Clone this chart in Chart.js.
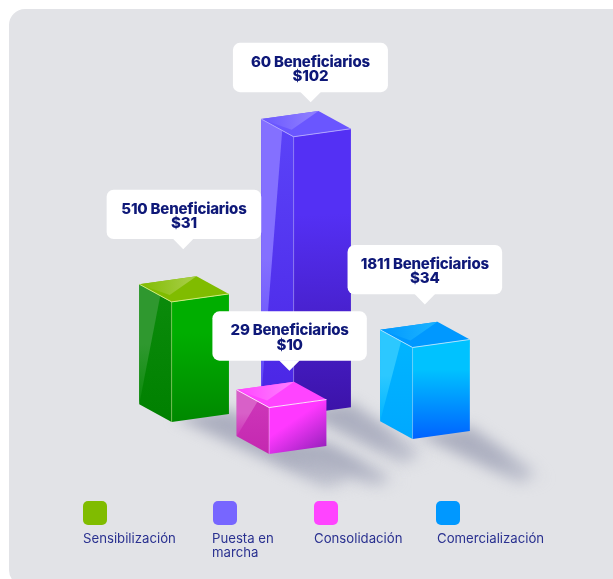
<!DOCTYPE html>
<html><head><meta charset="utf-8">
<style>html,body{margin:0;padding:0;background:#fff;overflow:hidden}canvas{display:block}</style>
<script src="https://cdn.jsdelivr.net/npm/chart.js@4"></script>
</head><body><canvas id="c" width="613" height="579"></canvas>
<script>
// ---- data ----
const categories = ['Sensibilización', 'Puesta en marcha', 'Consolidación', 'Comercialización'];
const beneficiaries = [510, 60, 29, 1811];
const amounts = [31, 102, 10, 34];
// the illustration does not draw heights in proportion to the amounts: read as drawn
const drawnHeights = [44, 102, 17, 33.5];
const floorLevels = [57.5, 60, 45.8, 51.3];
const columnPositions = [28, 47.9, 43.9, 67.3];

// ---- style / layout ----
const NAVY = '#0E1878', LEG = '#2A3190';
const FONT = '"Inter","Liberation Sans",sans-serif';
const LEFT = {dx:-32.4, dy:-17.7}, RIGHT = {dx:57.3, dy:-8};
const palette = [
 {top:'#80BC00',topHi:'#A4CC40',left:'#0A8A0A',leftHi:'#2F982F',leftBot:'#008000',rT:'#00AE00',rB:'#008800',diag:0,edge:'#D0EC80',sw:'#80BC00'},
 {top:'#6A56FF',topHi:'#8C7CFF',left:'#5A42F8',leftHi:'#8470FF',leftBot:'#4A24E4',rT:'#5430F4',rB:'#3C12A8',diag:0.25,edge:'#B0A4FF',sw:'#7766FF'},
 {top:'#FF44FF',topHi:'#FF78FF',left:'#CC34B8',leftHi:'#D860C8',leftBot:'#C428B0',rT:'#FF38FF',rB:'#8A1EB4',diag:1,edge:'#FFE0FA',sw:'#FF44FF'},
 {top:'#0098FF',topHi:'#18B0FF',left:'#00B4FF',leftHi:'#2CC8FF',leftBot:'#00A8FF',rT:'#00C2FF',rB:'#0062FF',diag:0,edge:'#A8E4FF',sw:'#0098FF'}
];
// callout: offset of pointer tip from the column's front-top corner, then box extents around tip
const calloutTips = [{dx:11.6,dy:-52.7},{dx:17,dy:-34.4},{dx:20.3,dy:-36.7},{dx:12.3,dy:-43}];
const calloutBox = [{l:76.6,r:78},{l:77.7,r:77.3},{l:77,r:77.4},{l:77.3,r:77.3}];
const legendSpots = [
 {x:83,tx:83,lines:['Sensibilización']},
 {x:213,tx:212,lines:['Puesta en','marcha']},
 {x:314,tx:314,lines:['Consolidación']},
 {x:436,tx:437,lines:['Comercialización']}
];
// floor shadow reach per column: run, drop, taper
const shadowReach = [[150,66,.9],[95,50,.55],[92,34,.5],[92,46,.5]];

function rr(ctx,x,y,w,h,r){ctx.beginPath();ctx.roundRect(x,y,w,h,r);}
function poly(ctx,pts){ctx.beginPath();pts.forEach((p,i)=>i?ctx.lineTo(p[0],p[1]):ctx.moveTo(p[0],p[1]));ctx.closePath();}
function lg(ctx,x0,y0,x1,y1,stops){const g=ctx.createLinearGradient(x0,y0,x1,y1);stops.forEach(s=>g.addColorStop(s[0],s[1]));return g;}

function drawColumn(ctx,b,i){
 const c=palette[i], fx=b.x, ty=b.y, by=b.base;
 const h=by-ty;
 const L=[fx+LEFT.dx,ty+LEFT.dy], R=[fx+RIGHT.dx,ty+RIGHT.dy], B=[L[0]+RIGHT.dx,L[1]+RIGHT.dy], F=[fx,ty];
 const Lb=[L[0],L[1]+h], Rb=[R[0],R[1]+h], Fb=[fx,by];
 // left face
 ctx.fillStyle=lg(ctx,0,ty,0,by,[[0,c.left],[1,c.leftBot]]);
 poly(ctx,[L,F,Fb,Lb]);ctx.fill();
 // left highlight wedge, running from the top edge to the lower back corner
 ctx.fillStyle=lg(ctx,0,L[1],0,Lb[1],[[0,c.leftHi],[.5,c.leftHi],[1,c.left]]);
 const wx=L[0]+21;
 poly(ctx,[L,[wx,L[1]+21*17.7/32.4],Lb]);ctx.fill();
 // right face
 ctx.fillStyle=lg(ctx,fx+c.diag*20,Math.min(R[1],ty),fx+c.diag*RIGHT.dx,by,[[0,c.rT],[.3,c.rT],[1,c.rB]]);
 poly(ctx,[F,R,Rb,Fb]);ctx.fill();
 // top face
 ctx.fillStyle=c.top;poly(ctx,[L,B,R,F]);ctx.fill();
 ctx.fillStyle=lg(ctx,L[0],L[1],B[0],L[1],[[0,c.top],[.85,c.topHi],[1,c.topHi]]);
 poly(ctx,[L,B,[fx-2,ty-7]]);ctx.fill();
 // edges
 ctx.lineWidth=1;ctx.strokeStyle=c.edge;
 ctx.beginPath();ctx.moveTo(L[0],L[1]);ctx.lineTo(F[0],F[1]);ctx.lineTo(R[0],R[1]);ctx.stroke();
 ctx.globalAlpha=.4;ctx.beginPath();ctx.moveTo(F[0],F[1]);ctx.lineTo(Fb[0],Fb[1]);ctx.stroke();ctx.globalAlpha=1;
}
function drawShadows(ctx,bars){
 ctx.save();
 ctx.filter='blur(7px)';
 bars.forEach((b,i)=>{
  const h=b.base-b.y, Rb=[b.x+RIGHT.dx,b.y+RIGHT.dy+h], Fb=[b.x,b.base];
  const [run,drop,tp]=shadowReach[i];
  const cx=(Fb[0]+Rb[0])/2, cy=(Fb[1]+Rb[1])/2;
  const wx=(Rb[0]-Fb[0])/2*tp, wy=(Rb[1]-Fb[1])/2*tp;
  const ex=cx+run, ey=cy+drop;
  ctx.fillStyle=lg(ctx,cx,cy,ex,ey,[[0,'rgba(168,171,188,.95)'],[.6,'rgba(172,175,192,.95)'],[.92,'rgba(180,183,198,.7)'],[1,'rgba(200,202,214,.15)']]);
  poly(ctx,[[Fb[0]+3,Fb[1]-5],[Rb[0],Rb[1]-5],[ex+wx,ey+wy],[ex-wx,ey-wy]]);
  ctx.fill();
 });
 ctx.restore();
}
function drawCallout(ctx,b,i){
 const t=calloutTips[i],bx=calloutBox[i];
 const tx=b.x+t.dx, ty=b.y+t.dy;
 const top=ty-59.5,bot=ty-10.2;
 ctx.save();
 ctx.fillStyle='#fff';
 rr(ctx,tx-bx.l,top,bx.l+bx.r,bot-top,7);ctx.fill();
 poly(ctx,[[tx-10.5,bot-.5],[tx+10.5,bot-.5],[tx,ty]]);ctx.fill();
 ctx.fillStyle=NAVY;ctx.textAlign='center';ctx.textBaseline='alphabetic';
 ctx.font='800 15px '+FONT;
 if('letterSpacing' in ctx)ctx.letterSpacing='-0.2px';
 const cx=tx-bx.l+(bx.l+bx.r)/2;
 ctx.fillText(beneficiaries[i]+' Beneficiarios',cx,top+24);
 ctx.fillText('$'+amounts[i],cx,top+38.5);
 ctx.restore();
}
const illustration={
 id:'illustration',
 beforeDraw(chart){
  const ctx=chart.ctx;
  ctx.save();
  ctx.fillStyle='#fff';ctx.fillRect(0,0,613,579);
  ctx.fillStyle='#E2E3E7';rr(ctx,9,9,640,577,16);ctx.fill();
  ctx.restore();
 },
 afterDatasetsDraw(chart){
  const ctx=chart.ctx, bars=chart.getDatasetMeta(0).data;
  ctx.save();
  drawShadows(ctx,bars);
  [0,1,2,3].forEach(i=>drawColumn(ctx,bars[i],i));
  [0,1,3,2].forEach(i=>drawCallout(ctx,bars[i],i));
  // legend
  legendSpots.forEach((s,i)=>{
   ctx.fillStyle=palette[i].sw;rr(ctx,s.x,501,24,24,5);ctx.fill();
   ctx.fillStyle=LEG;ctx.font='400 13.2px '+FONT;ctx.textAlign='left';
   s.lines.forEach((ln,k)=>ctx.fillText(ln,s.tx,543+k*13.5));
  });
  ctx.restore();
 }
};
new Chart(document.getElementById('c'),{
 type:'bar',
 data:{labels:categories,datasets:[{
  label:'Inversión',
  data:columnPositions.map((x,i)=>({x,y:[floorLevels[i],floorLevels[i]+drawnHeights[i]]})),
  backgroundColor:'rgba(0,0,0,0)',borderWidth:0,barThickness:58
 }]},
 options:{
  responsive:false,animation:false,
  layout:{padding:0},
  plugins:{legend:{display:false},tooltip:{enabled:false}},
  scales:{
   x:{type:'linear',min:0,max:100,offset:false,display:false},
   y:{type:'linear',min:0,max:212.09,display:false}
  }
 },
 plugins:[illustration]
});
</script></body></html>
